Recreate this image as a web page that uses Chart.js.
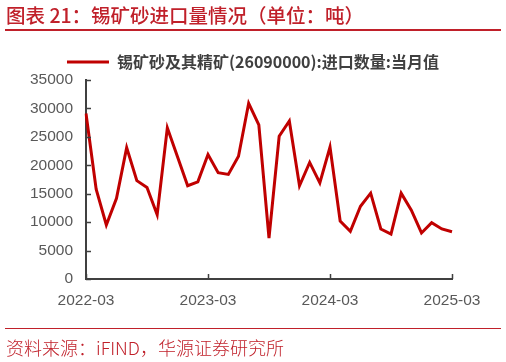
<!DOCTYPE html>
<html>
<head>
<meta charset="utf-8">
<script src="https://cdn.jsdelivr.net/npm/chart.js@4/dist/chart.umd.min.js"></script>
<style>
  html, body { margin: 0; padding: 0; background: #ffffff; }
  #wrap { position: relative; width: 506px; height: 362px; overflow: hidden; }
  #c { position: absolute; left: 0; top: 0; }
  #title { position: absolute; left: 6px; top: 2px; font-family: "Noto Sans CJK SC", sans-serif; font-size: 19.5px; font-weight: 500; color: #C0202A; white-space: nowrap; line-height: 26px; }
  #tline { position: absolute; left: 5px; top: 29px; width: 496px; height: 2px; background: #C0202A; }
  #bline { position: absolute; left: 5px; top: 328px; width: 496px; height: 1px; background: #C0202A; }
  #foot { position: absolute; left: 6px; top: 335px; font-family: "Noto Sans CJK SC", sans-serif; font-size: 18px; font-weight: 300; color: #C0202A; white-space: nowrap; line-height: 24px; }
</style>
</head>
<body>
<div id="wrap">
  <canvas id="c" width="506" height="362"></canvas>
  <div id="title">图表 21：锡矿砂进口量情况（单位：吨）</div>
  <div id="tline"></div>
  <div id="bline"></div>
  <div id="foot">资料来源：iFIND，华源证券研究所</div>
</div>
<script>
const months = [
  "2022-03","2022-04","2022-05","2022-06","2022-07","2022-08","2022-09","2022-10","2022-11","2022-12","2023-01","2023-02",
  "2023-03","2023-04","2023-05","2023-06","2023-07","2023-08","2023-09","2023-10","2023-11","2023-12","2024-01","2024-02",
  "2024-03","2024-04","2024-05","2024-06","2024-07","2024-08","2024-09","2024-10","2024-11","2024-12","2025-01","2025-02",
  "2025-03"
];
const tinImports = [
  29100, 15800, 9500, 14200, 23100, 17300, 16100, 11300, 26600, 21500, 16400, 17100,
  21900, 18700, 18400, 21600, 30900, 27100, 7200, 25100, 27800, 16400, 20500, 16900,
  23200, 10200, 8400, 12800, 15100, 8800, 7900, 15100, 12100, 8100, 9900, 8800,
  8300
];
const seriesName = "锡矿砂及其精矿(26090000):进口数量:当月值";
const yTicks = [0, 5000, 10000, 15000, 20000, 25000, 30000, 35000];
const xTickLabels = ["2022-03", "2023-03", "2024-03", "2025-03"];

const axisColor = "#404040";

const innerTicks = {
  id: "innerTicks",
  afterDraw(chart) {
    const ctx = chart.ctx;
    const a = chart.chartArea;
    const xs = chart.scales.x, ys = chart.scales.y;
    ctx.save();
    ctx.strokeStyle = axisColor;
    ctx.lineWidth = 1.5;
    ctx.beginPath();
    yTicks.forEach(v => {
      const y = Math.round(ys.getPixelForValue(v)) + 0.5;
      ctx.moveTo(a.left, y);
      ctx.lineTo(a.left + 5, y);
    });
    months.forEach((m, i) => {
      if (xTickLabels.includes(m)) {
        const x = Math.round(xs.getPixelForValue(i)) + 0.5;
        ctx.moveTo(x, a.bottom);
        ctx.lineTo(x, a.bottom - 5);
      }
    });
    ctx.stroke();
    ctx.restore();
  }
};

new Chart(document.getElementById("c"), {
  type: "line",
  data: {
    labels: months,
    datasets: [{
      label: seriesName,
      data: tinImports,
      borderColor: "#C00000",
      backgroundColor: "#C00000",
      borderWidth: 3,
      pointRadius: 0,
      tension: 0,
      fill: false
    }]
  },
  options: {
    responsive: false,
    animation: false,
    devicePixelRatio: 1,
    layout: { padding: { top: 44, right: 0, bottom: 0, left: 0 } },
    plugins: {
      legend: {
        display: true,
        position: "top",
        labels: {
          boxWidth: 42,
          boxHeight: 3,
          color: "#404040",
          font: { family: "'Noto Sans CJK SC', sans-serif", size: 16, weight: "bold" },
          padding: 10,
          generateLabels: function(chart) {
            const items = Chart.defaults.plugins.legend.labels.generateLabels(chart);
            items.forEach(it => { it.lineWidth = 0; it.strokeStyle = "rgba(0,0,0,0)"; });
            return items;
          }
        }
      },
      tooltip: { enabled: false }
    },
    scales: {
      x: {
        type: "category",
        offset: false,
        grid: { display: true, drawOnChartArea: false, drawTicks: false, color: "rgba(0,0,0,0)" },
        border: { display: true, color: axisColor, width: 2 },
        ticks: {
          autoSkip: false,
          maxRotation: 0,
          padding: 12,
          color: "#595959",
          font: { family: "'Liberation Sans', Arial, sans-serif", size: 15.5 },
          callback: function(val, i) { const l = months[i]; return xTickLabels.includes(l) ? l : ""; }
        },
        afterFit: function(s) { s.height = 83; }
      },
      y: {
        min: 0,
        max: 35000,
        grid: { display: true, drawOnChartArea: false, drawTicks: false, color: "rgba(0,0,0,0)" },
        border: { display: true, color: axisColor, width: 2 },
        ticks: {
          stepSize: 5000,
          padding: 13,
          color: "#595959",
          font: { family: "'Liberation Sans', Arial, sans-serif", size: 15.5 },
          callback: v => String(v)
        },
        afterFit: function(s) { s.width = 86; }
      },
      yRight: {
        position: "right",
        display: true,
        min: 0,
        max: 35000,
        grid: { display: false, drawTicks: false },
        border: { display: false },
        ticks: { display: false },
        afterFit: function(s) { s.width = 54; }
      }
    }
  },
  plugins: [innerTicks]
});
</script>
</body>
</html>
